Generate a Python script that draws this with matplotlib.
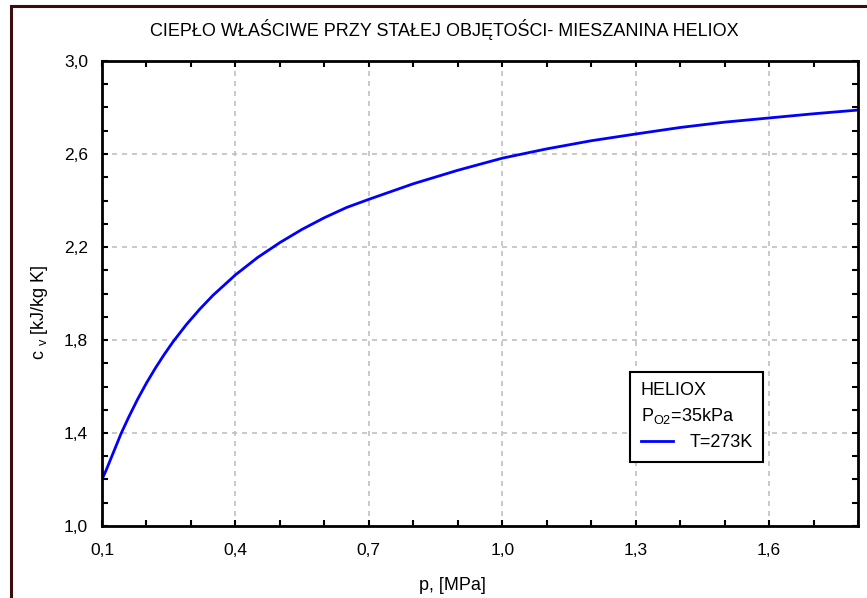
import matplotlib
matplotlib.use("Agg")
import matplotlib.pyplot as plt
from matplotlib.lines import Line2D
from matplotlib.patches import Rectangle
from matplotlib.ticker import FixedLocator, FuncFormatter, MultipleLocator

plt.rcParams["font.family"] = ["Liberation Sans", "DejaVu Sans"]

# values
p_mpa = [0.10, 0.11, 0.12, 0.13, 0.143, 0.16, 0.18, 0.20, 0.22, 0.24, 0.26,
         0.29, 0.32, 0.35, 0.40, 0.45, 0.50, 0.55, 0.60, 0.65, 0.70, 0.80,
         0.90, 1.00, 1.10, 1.20, 1.30, 1.40, 1.50, 1.60, 1.70, 1.80]
cv = [1.200, 1.243, 1.290, 1.337, 1.398, 1.468, 1.545, 1.615, 1.679, 1.738, 1.793,
      1.867, 1.933, 1.993, 2.080, 2.155, 2.219, 2.276, 2.326, 2.370, 2.405, 2.472,
      2.530, 2.582, 2.622, 2.657, 2.686, 2.714, 2.737, 2.755, 2.773, 2.789]

x_ticks = [0.1, 0.4, 0.7, 1.0, 1.3, 1.6]
y_ticks = [1.0, 1.4, 1.8, 2.2, 2.6, 3.0]

title = "CIEPŁO WŁAŚCIWE PRZY STAŁEJ OBJĘTOŚCI- MIESZANINA HELIOX"
series_label = "T=273K"
legend_title = "HELIOX\nP$_{\\mathregular{O2}}$=35kPa"

W, H = 867, 598
fig = plt.figure(figsize=(W / 100, H / 100), dpi=100)

# outer frame (cut off at right and bottom like the original)
fig.patches.append(Rectangle((11 / W, -0.1), 1.2, 1 - 6 / H + 0.1,
                             transform=fig.transFigure, fill=False,
                             edgecolor="#3d0c0c", linewidth=2.2))

ax = fig.add_axes([102 / W, 1 - 526 / H, 756 / W, 465 / H])
ax.plot(p_mpa, cv, color="#0000ff", linewidth=2, label=series_label)

ax.set_xlim(0.1, 1.8)
ax.set_ylim(1.0, 3.0)
ax.xaxis.set_major_locator(FixedLocator(x_ticks))
ax.xaxis.set_minor_locator(MultipleLocator(0.1))
ax.yaxis.set_major_locator(FixedLocator(y_ticks))
ax.yaxis.set_minor_locator(MultipleLocator(0.1))
comma = FuncFormatter(lambda v, _: f"{v:.1f}".replace(".", ","))
ax.xaxis.set_major_formatter(comma)
ax.yaxis.set_major_formatter(comma)

ax.tick_params(which="both", direction="in", top=True, right=True,
               length=4, width=1.5, labelsize=12.5, color="black")
ax.tick_params(axis="x", pad=12)
ax.tick_params(axis="y", pad=10)
for s in ax.spines.values():
    s.set_linewidth(2)

ax.grid(True, which="major", color="#c0c0c0", linestyle=(0, (3, 3)), linewidth=1.2)

leg = ax.legend(handles=[Line2D([0], [0], color="#0000ff", linewidth=2)],
                labels=[series_label], title=legend_title, alignment="left",
                loc="upper left", bbox_to_anchor=(0.698, 0.332), borderaxespad=0,
                fontsize=13, title_fontsize=13, fancybox=False, framealpha=1,
                edgecolor="black", handlelength=1.8, handletextpad=0.9,
                borderpad=0.6, labelspacing=0.45)
leg.get_title().set_linespacing(1.45)
leg.get_frame().set_linewidth(1.5)

fig.text(444 / W, 1 - 30 / H, title, ha="center", va="center", fontsize=13)
fig.text(452 / W, 1 - 586 / H, "p, [MPa]", ha="center", va="center", fontsize=13)
fig.text(40 / W, 1 - 312 / H, "c $_{\\mathregular{v}}$ [kJ/kg K]", ha="center",
         va="center", rotation=90, fontsize=13)

fig.savefig("out.png", dpi=100)
